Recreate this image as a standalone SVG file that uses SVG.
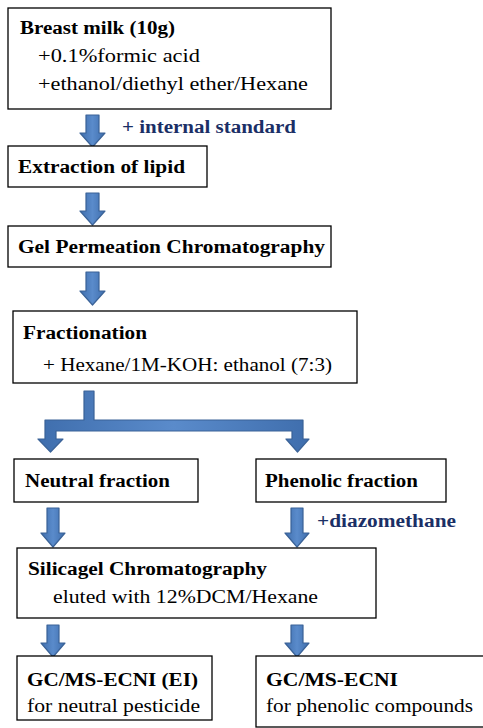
<svg xmlns="http://www.w3.org/2000/svg" width="483" height="728" viewBox="0 0 483 728">
<style>
.box{fill:#fff;stroke:#000;stroke-width:1.3}
.t{font-family:"Liberation Serif","Times New Roman",serif;font-size:18px;fill:#000}
.b{font-weight:bold}
.lbl{font-family:"Liberation Serif","Times New Roman",serif;font-size:18px;font-weight:bold;fill:#1B2F66}
.arr{fill:url(#g);stroke:#3A6297;stroke-width:1.2;stroke-linejoin:round}
</style>
<defs>
<linearGradient id="g" x1="0" y1="0" x2="1" y2="0">
<stop offset="0" stop-color="#3F6EAD"/>
<stop offset="0.5" stop-color="#5A8BCB"/>
<stop offset="1" stop-color="#3F6EAD"/>
</linearGradient>
</defs>
<g id="connectors">
<path class="arr" d="M86 115 H99 V133 H105 L92.5 147 L80 133 H86 Z"/>
<path class="arr" d="M86 193 H99 V211 H105 L92.5 225 L80 211 H86 Z"/>
<path class="arr" d="M86 272 H99 V291 H105 L92.5 305 L80 291 H86 Z"/>
<path class="arr" d="M84 391 H94 V420 H303 V439 H309 L297.5 452 L286 439 H292 V431 H56 V439 H63 L50.5 452 L38 439 H45 V420 H84 Z"/>
<path class="arr" d="M47 508 H59 V533 H65 L53 547 L41 533 H47 Z"/>
<path class="arr" d="M291 508 H303 V533 H309 L297 547 L285 533 H291 Z"/>
<path class="arr" d="M47 625 H59 V643 H65 L53 657 L41 643 H47 Z"/>
<path class="arr" d="M291 625 H303 V643 H309 L297 657 L285 643 H291 Z"/>
<text class="lbl" x="122" y="133" textLength="174" lengthAdjust="spacingAndGlyphs">+ internal standard</text>
<text class="lbl" x="317" y="527" textLength="139" lengthAdjust="spacingAndGlyphs">+diazomethane</text>
</g>
<g id="n1">
<rect class="box" x="8" y="8" width="323" height="101"/>
<text class="t b" x="20" y="34" textLength="155" lengthAdjust="spacingAndGlyphs">Breast milk (10g)</text>
<text class="t" x="38" y="62" textLength="162" lengthAdjust="spacingAndGlyphs">+0.1%formic acid</text>
<text class="t" x="38" y="90" textLength="270" lengthAdjust="spacingAndGlyphs">+ethanol/diethyl ether/Hexane</text>
</g>
<g id="n2">
<rect class="box" x="8" y="146" width="199" height="41"/>
<text class="t b" x="18" y="173" textLength="167" lengthAdjust="spacingAndGlyphs">Extraction of lipid</text>
</g>
<g id="n3">
<rect class="box" x="8" y="226" width="323" height="41"/>
<text class="t b" x="18" y="253" textLength="307" lengthAdjust="spacingAndGlyphs">Gel Permeation Chromatography</text>
</g>
<g id="n4">
<rect class="box" x="13" y="311" width="344" height="72"/>
<text class="t b" x="23" y="339" textLength="124" lengthAdjust="spacingAndGlyphs">Fractionation</text>
<text class="t" x="43" y="371" textLength="289" lengthAdjust="spacingAndGlyphs">+ Hexane/1M-KOH: ethanol (7:3)</text>
</g>
<g id="n5">
<rect class="box" x="14" y="459" width="184" height="43"/>
<text class="t b" x="25" y="487" textLength="145" lengthAdjust="spacingAndGlyphs">Neutral fraction</text>
</g>
<g id="n6">
<rect class="box" x="256" y="459" width="190" height="43"/>
<text class="t b" x="265" y="487" textLength="153" lengthAdjust="spacingAndGlyphs">Phenolic fraction</text>
</g>
<g id="n7">
<rect class="box" x="17" y="548" width="359" height="70"/>
<text class="t b" x="28" y="575" textLength="239" lengthAdjust="spacingAndGlyphs">Silicagel Chromatography</text>
<text class="t" x="53" y="603" textLength="265" lengthAdjust="spacingAndGlyphs">eluted with 12%DCM/Hexane</text>
</g>
<g id="n8">
<rect class="box" x="17" y="656" width="195" height="64"/>
<text class="t b" x="27" y="686" textLength="171" lengthAdjust="spacingAndGlyphs">GC/MS-ECNI (EI)</text>
<text class="t" x="27" y="712" textLength="173" lengthAdjust="spacingAndGlyphs">for neutral pesticide</text>
</g>
<g id="n9">
<rect class="box" x="256" y="656" width="240" height="71"/>
<text class="t b" x="266" y="686" textLength="132" lengthAdjust="spacingAndGlyphs">GC/MS-ECNI</text>
<text class="t" x="266" y="712" textLength="207" lengthAdjust="spacingAndGlyphs">for phenolic compounds</text>
</g>
</svg>
